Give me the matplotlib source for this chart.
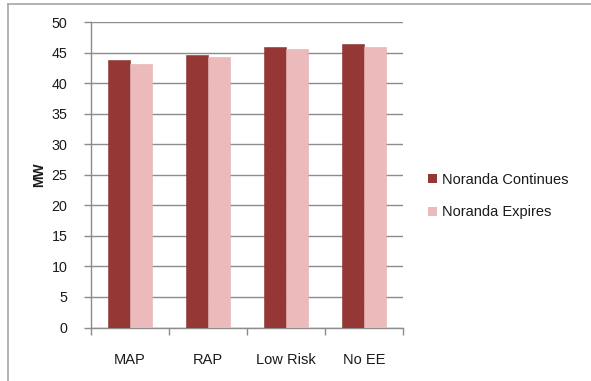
import matplotlib
matplotlib.use("Agg")
import matplotlib.pyplot as plt
import numpy as np
from matplotlib.lines import Line2D
from matplotlib.patches import Patch

plt.rcParams['font.family'] = ['Liberation Sans', 'DejaVu Sans']

categories = ["MAP", "RAP", "Low Risk", "No EE"]
continues = [43.7, 44.6, 45.9, 46.4]
expires = [43.1, 44.2, 45.5, 45.9]
series_names = ["Noranda Continues", "Noranda Expires"]
y_ticks = [0, 5, 10, 15, 20, 25, 30, 35, 40, 45, 50]

dark = "#953735"
light = "#ECBABB"
grid_c = "#8c8c8c"
text_c = "#1a1a1a"

W, H = 591, 381
fig = plt.figure(figsize=(W / 100, H / 100), dpi=100)
ax = fig.add_axes([91 / W, 1 - 327.5 / H, (403 - 91) / W, (327.5 - 22) / H])

x = np.arange(len(categories))
bw = 0.28
ax.bar(x - bw / 2, continues, bw, color=dark, edgecolor="#8a3230", linewidth=0.4, zorder=3)
ax.bar(x + bw / 2, expires, bw, color=light, edgecolor="#e3b0b1", linewidth=0.4, zorder=3)

ax.set_xlim(-0.5, len(categories) - 0.5)
ax.set_ylim(0, 50)
ax.set_yticks(y_ticks)
ax.set_yticklabels([str(t) for t in y_ticks], fontsize=10.3, color=text_c)
ax.yaxis.grid(True, color=grid_c, linewidth=1.0, zorder=0)
ax.tick_params(axis="y", length=5, color=grid_c, width=1, pad=12)

ax.set_xticks(x)
ax.set_xticklabels(categories, fontsize=10.5, color=text_c)
ax.tick_params(axis="x", length=0, pad=18)
ax.set_xticks(np.arange(-0.5, len(categories)), minor=True)
ax.tick_params(axis="x", which="minor", length=5, color=grid_c, width=1)

for s in ["top", "right"]:
    ax.spines[s].set_visible(False)
for s in ["left", "bottom"]:
    ax.spines[s].set_color(grid_c)
    ax.spines[s].set_linewidth(1)

ax.set_ylabel("MW", fontsize=10, fontweight="bold", labelpad=4, color=text_c)

handles = [Patch(facecolor=dark, edgecolor="none"), Patch(facecolor=light, edgecolor="none")]
fig.legend(handles, series_names, loc="center left", bbox_to_anchor=(415 / W, 1 - 196 / H),
           frameon=False, fontsize=10.5, handlelength=0.62, handleheight=0.62,
           handletextpad=0.35, labelspacing=1.3, labelcolor=text_c)

# outer chart frame (top and left edges)
fig.add_artist(Line2D([8 / W, 1], [1 - 4 / H, 1 - 4 / H], color="#a6a6a6", linewidth=1.2))
fig.add_artist(Line2D([8 / W, 8 / W], [0, 1 - 4 / H], color="#a6a6a6", linewidth=1.2))

fig.savefig("out.png", dpi=100)
